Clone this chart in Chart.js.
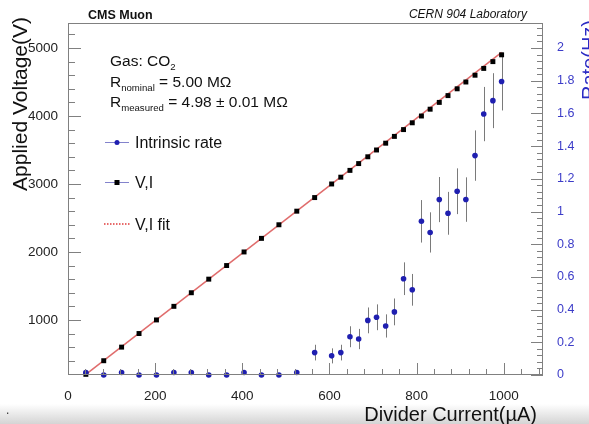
<!DOCTYPE html>
<html lang="en">
<head>
<meta charset="UTF-8">
<title>CMS Muon - Divider current scan</title>
<script src="https://cdn.jsdelivr.net/npm/chart.js"></script>
<style>
  html, body { margin: 0; padding: 0; background: #fff; }
  #wrap { width: 589px; height: 424px; }
</style>
</head>
<body>
<div id="wrap"><canvas id="scanChart" width="589" height="424"></canvas></div>
<script>
// divider current (uA) at each HV step
const currents = [41, 82, 123, 163, 203, 243, 283, 323, 364, 404, 444, 484, 525, 566,
  605, 626, 647, 667, 688, 708, 729, 749, 770, 790, 811, 831, 852, 872, 893, 913, 934, 954, 975, 995];
// applied voltage (V)
const voltages = [200, 400, 600, 800, 1000, 1200, 1400, 1600, 1800, 2000, 2200, 2400, 2600, 2800,
  3000, 3100, 3200, 3300, 3400, 3500, 3600, 3700, 3800, 3900, 4000, 4100, 4200, 4300, 4400, 4500, 4600, 4700, 4800, 4900];
// intrinsic rate (Hz) and its error
const rates = [0.015, 0, 0.015, 0, 0, 0.015, 0.015, 0, 0, 0.015, 0, 0, 0.015, 0.137,
  0.117, 0.137, 0.234, 0.22, 0.334, 0.353, 0.30, 0.386, 0.589, 0.521, 0.94, 0.872, 1.073, 0.989, 1.124, 1.073, 1.342, 1.596, 1.678, 1.795];
const rateErrors = [0.012, 0, 0.012, 0, 0, 0.012, 0.012, 0, 0, 0.012, 0, 0, 0.012, 0.048,
  0.046, 0.048, 0.064, 0.062, 0.079, 0.079, 0.071, 0.082, 0.10, 0.097, 0.13, 0.123, 0.138, 0.131, 0.14, 0.136, 0.154, 0.166, 0.168, 0.177];
// V,I linear fit (end points)
const fitCurrents = [41, 995];
const fitVoltages = [200, 4937];
// tick labels
const currentTicks = [0, 200, 400, 600, 800, 1000];
const voltageTicks = [1000, 2000, 3000, 4000, 5000];
const rateTicks = [0, 0.2, 0.4, 0.6, 0.8, 1, 1.2, 1.4, 1.6, 1.8, 2];

const FONT = "'Liberation Sans', Arial, Helvetica, sans-serif";
const BLUE = '#1f1fb0';
const FRAME = '#808080';

// text with subscripts, parts = [[text, isSub], ...]
function richText(ctx, x, y, parts, size) {
  for (const [t, sub] of parts) {
    ctx.font = (sub ? size * 0.62 : size) + 'px ' + FONT;
    ctx.fillText(t, x, sub ? y + size * 0.28 : y);
    x += ctx.measureText(t).width;
  }
}

const rootStyle = {
  id: 'rootStyle',
  beforeDraw(chart) {
    const {ctx, width} = chart;
    ctx.save();
    ctx.fillStyle = '#fff';
    ctx.fillRect(0, 0, width, chart.height);
    const g = ctx.createLinearGradient(0, 404, 0, 424);
    g.addColorStop(0, 'rgba(212,212,212,0)');
    g.addColorStop(1, 'rgba(212,212,212,1)');
    ctx.fillStyle = g;
    ctx.fillRect(0, 404, width, 20);
    ctx.restore();
  },
  beforeDatasetsDraw(chart) {
    // error bars on the rate points
    const {ctx} = chart;
    const yR = chart.scales.yR;
    const meta = chart.getDatasetMeta(2);
    ctx.save();
    ctx.strokeStyle = '#7a7a7a';
    ctx.lineWidth = 1;
    meta.data.forEach((pt, i) => {
      const e = rateErrors[i];
      if (!e) return;
      const x = Math.round(pt.x) + 0.5;
      ctx.beginPath();
      ctx.moveTo(x, yR.getPixelForValue(rates[i] + e));
      ctx.lineTo(x, yR.getPixelForValue(rates[i] - e));
      ctx.stroke();
    });
    ctx.restore();
  },
  afterDraw(chart) {
    const {ctx, chartArea: a} = chart;
    const {x, yV, yR} = chart.scales;
    ctx.save();

    // frame
    ctx.strokeStyle = FRAME;
    ctx.lineWidth = 1;
    ctx.strokeRect(a.left + 0.5, a.top + 0.5, a.right - a.left - 1, a.bottom - a.top - 1);

    // inner ticks
    ctx.beginPath();
    for (let v = 0; v <= 1080; v += 40) {
      const px = Math.round(x.getPixelForValue(v)) + 0.5;
      const len = v % 200 === 0 ? 12 : 6;
      ctx.moveTo(px, a.bottom);
      ctx.lineTo(px, a.bottom - len);
    }
    for (let v = 200; v <= 5300; v += 200) {
      const py = Math.round(yV.getPixelForValue(v)) + 0.5;
      const len = v % 1000 === 0 ? 13 : 7;
      ctx.moveTo(a.left, py);
      ctx.lineTo(a.left + len, py);
    }
    for (let k = 0; k <= 53; k++) {
      const v = k * 0.04;
      const py = Math.round(yR.getPixelForValue(v)) + 0.5;
      const len = k % 5 === 0 ? 12 : 6;
      ctx.moveTo(a.right, py);
      ctx.lineTo(a.right - len, py);
    }
    ctx.stroke();

    // header texts
    ctx.fillStyle = '#111';
    ctx.textBaseline = 'alphabetic';
    ctx.font = 'bold 12.5px ' + FONT;
    ctx.textAlign = 'left';
    ctx.fillText('CMS Muon', 88, 19);
    ctx.font = 'italic 12px ' + FONT;
    ctx.textAlign = 'right';
    ctx.fillText('CERN 904 Laboratory', 527, 18);

    // info box
    ctx.textAlign = 'left';
    ctx.fillStyle = '#111';
    richText(ctx, 110, 66, [['Gas: CO', false], ['2', true]], 15.5);
    richText(ctx, 110, 87, [['R', false], ['nominal', true], [' = 5.00 M\u03A9', false]], 15.5);
    richText(ctx, 110, 107, [['R', false], ['measured', true], [' = 4.98 \u00B1 0.01 M\u03A9', false]], 15.5);

    // legend
    ctx.lineWidth = 1;
    ctx.strokeStyle = '#8383cc';
    [142.5, 182.5].forEach(y => {
      ctx.beginPath();
      ctx.moveTo(105, y);
      ctx.lineTo(129, y);
      ctx.stroke();
    });
    ctx.fillStyle = BLUE;
    ctx.beginPath();
    ctx.arc(117, 142.5, 2.5, 0, Math.PI * 2);
    ctx.fill();
    ctx.fillStyle = '#000';
    ctx.fillRect(114.5, 180, 5, 5);
    ctx.strokeStyle = '#e03a3a';
    ctx.lineWidth = 1.5;
    ctx.setLineDash([1.5, 1.5]);
    ctx.beginPath();
    ctx.moveTo(104, 224);
    ctx.lineTo(130, 224);
    ctx.stroke();
    ctx.setLineDash([]);
    ctx.fillStyle = '#111';
    ctx.font = '16px ' + FONT;
    ctx.fillText('Intrinsic rate', 135, 148);
    ctx.fillText('V,I', 135, 188);
    ctx.fillText('V,I fit', 135, 230);

    // axis titles
    ctx.font = '20px ' + FONT;
    ctx.textAlign = 'right';
    ctx.fillText('Divider Current(\u00B5A)', 537, 421);
    ctx.save();
    ctx.translate(27, 17);
    ctx.rotate(-Math.PI / 2);
    ctx.font = '21px ' + FONT;
    ctx.fillText('Applied Voltage(V)', 0, 0);
    ctx.restore();
    ctx.save();
    ctx.translate(596, 20);
    ctx.rotate(-Math.PI / 2);
    ctx.font = '20px ' + FONT;
    ctx.fillStyle = '#2b2bc4';
    ctx.fillText('Rate(Hz)', 0, 0);
    ctx.restore();

    ctx.font = '12px ' + FONT;
    ctx.textAlign = 'left';
    ctx.fillStyle = '#333';
    ctx.fillText('.', 6, 414);
    ctx.restore();
  }
};

const plainLabel = v => String(v);

new Chart(document.getElementById('scanChart').getContext('2d'), {
  type: 'scatter',
  data: {
    datasets: [
      {
        label: 'V,I fit',
        data: fitCurrents.map((c, i) => ({x: c, y: fitVoltages[i]})),
        yAxisID: 'yV',
        showLine: true,
        borderColor: '#e06c6c',
        borderWidth: 1.5,
        pointRadius: 0,
        order: 3,
        clip: false
      },
      {
        label: 'V,I',
        data: currents.map((c, i) => ({x: c, y: voltages[i]})),
        yAxisID: 'yV',
        pointStyle: 'rect',
        pointRadius: 3.5,
        backgroundColor: '#000',
        borderColor: '#000',
        borderWidth: 0,
        order: 2,
        clip: false
      },
      {
        label: 'Intrinsic rate',
        data: currents.map((c, i) => ({x: c, y: rates[i]})),
        yAxisID: 'yR',
        pointRadius: 2.8,
        backgroundColor: BLUE,
        borderColor: BLUE,
        borderWidth: 0,
        order: 1,
        clip: false
      }
    ]
  },
  options: {
    responsive: false,
    animation: false,
    layout: {padding: {top: 23, left: 0, right: 0, bottom: 0}, autoPadding: false},
    plugins: {legend: {display: false}, tooltip: {enabled: false}},
    scales: {
      x: {
        type: 'linear',
        position: 'bottom',
        min: 0,
        max: 1090,
        grid: {display: false},
        border: {display: false},
        afterBuildTicks: s => { s.ticks = currentTicks.map(v => ({value: v})); },
        afterFit: s => { s.height = 49; },
        ticks: {color: '#222', padding: 5, maxRotation: 0, autoSkip: false, callback: plainLabel, font: {family: FONT, size: 13.5}}
      },
      yV: {
        type: 'linear',
        position: 'left',
        min: 190,
        max: 5368,
        grid: {display: false},
        border: {display: false},
        afterBuildTicks: s => { s.ticks = voltageTicks.map(v => ({value: v})); },
        afterFit: s => { s.width = 68; },
        ticks: {color: '#222', padding: 2, autoSkip: false, callback: plainLabel, font: {family: FONT, size: 13.5}}
      },
      yR: {
        type: 'linear',
        position: 'right',
        min: 0,
        max: 2.153,
        grid: {display: false},
        border: {display: false},
        afterBuildTicks: s => { s.ticks = rateTicks.map(v => ({value: v})); },
        afterFit: s => { s.width = 46; },
        ticks: {color: '#3c3cc8', padding: 6, autoSkip: false, callback: plainLabel, font: {family: FONT, size: 12.5}}
      }
    }
  },
  plugins: [rootStyle]
});
</script>
</body>
</html>
